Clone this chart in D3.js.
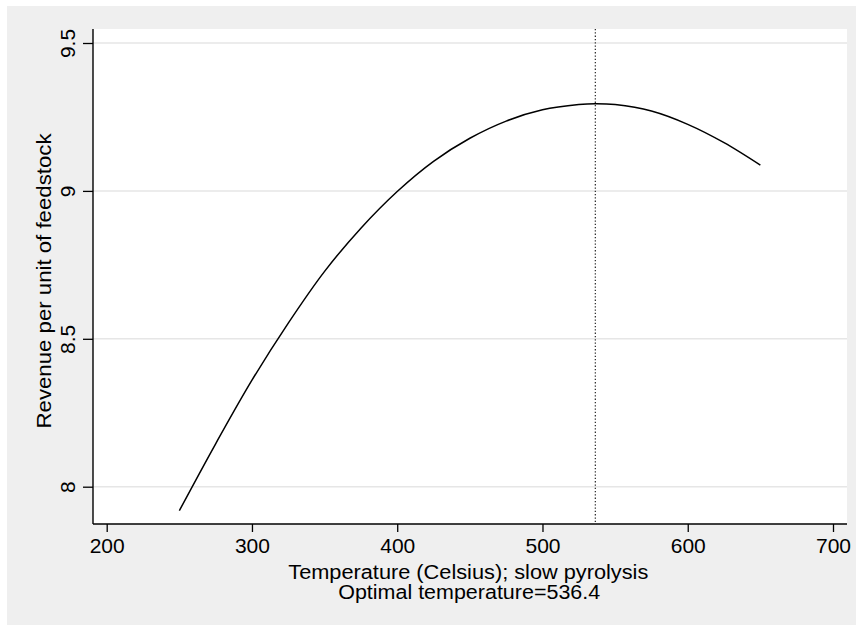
<!DOCTYPE html>
<html>
<head>
<meta charset="utf-8">
<script src="https://cdn.jsdelivr.net/npm/d3@7"></script>
<style>
  html, body { margin: 0; padding: 0; background: #ffffff; }
  svg text { font-family: "Liberation Sans", Arial, sans-serif; fill: #000; }
</style>
</head>
<body>
<div id="canvas"></div>
<script>
"use strict";

/* ---------- data ---------- */
let temps   = [250, 275, 300, 325, 350, 375, 400, 425, 450, 475, 500, 525, 536.4, 550, 575, 600, 625, 650];
let revenue = [7.919, 8.145, 8.360, 8.553, 8.728, 8.874, 8.998, 9.100, 9.178, 9.236, 9.274, 9.292, 9.295, 9.292, 9.270, 9.225, 9.163, 9.087];
let xTicks = [200, 300, 400, 500, 600, 700];
let yTicks = [8, 8.5, 9, 9.5];
let optimalTemp = 536.4;

/* ---------- layout ---------- */
let svgWidth = 856;
let svgHeight = 626;

let plotLeft = 93;
let plotRight = 847;
let plotTop = 29;
let plotBottom = 524;

let fontSize = "21px";

let svg = d3.select("#canvas")
    .append("svg")
    .attr("width", svgWidth)
    .attr("height", svgHeight);

/* outer gray graph region */
svg.append("rect")
    .attr("x", 7)
    .attr("y", 6)
    .attr("width", svgWidth - 7)
    .attr("height", svgHeight - 7)
    .attr("fill", "#efefef");

/* white plot region */
svg.append("rect")
    .attr("x", plotLeft)
    .attr("y", plotTop)
    .attr("width", plotRight - plotLeft)
    .attr("height", plotBottom - plotTop)
    .attr("fill", "#ffffff");

/* ---------- scales ---------- */
let xScale = d3.scaleLinear()
    .domain([200, 700])
    .range([106.7, 833]);

let yScale = d3.scaleLinear()
    .domain([8, 9.5])
    .range([486.7, 43]);

/* gridlines */
svg.selectAll("line.grid")
    .data(yTicks)
    .join("line")
    .attr("class", "grid")
    .attr("x1", plotLeft)
    .attr("x2", plotRight)
    .attr("y1", d => yScale(d))
    .attr("y2", d => yScale(d))
    .attr("stroke", "#e6e6e6")
    .attr("stroke-width", 1.5);

/* ---------- axes ---------- */
let xAxis = d3.axisBottom(xScale)
    .tickValues(xTicks)
    .tickSize(8)
    .tickPadding(6)
    .tickFormat(d3.format("d"));

let gx = svg.append("g")
    .attr("transform", "translate(0," + plotBottom + ")")
    .call(xAxis);

gx.select(".domain").remove();
gx.append("line")
    .attr("x1", plotLeft)
    .attr("x2", plotRight)
    .attr("stroke", "#000")
    .attr("stroke-width", 1.4);
gx.selectAll(".tick line").attr("stroke", "#000").attr("stroke-width", 1.3);
gx.selectAll(".tick text")
    .style("font-size", fontSize)
    .style("font-family", "Liberation Sans, Arial, sans-serif")
    .attr("fill", "#000");

let yAxis = d3.axisLeft(yScale)
    .tickValues(yTicks)
    .tickSize(10)
    .tickFormat(d => d3.format("")(d));

let gy = svg.append("g")
    .attr("transform", "translate(" + plotLeft + ",0)")
    .call(yAxis);

gy.select(".domain").remove();
gy.append("line")
    .attr("y1", plotTop)
    .attr("y2", plotBottom)
    .attr("stroke", "#000")
    .attr("stroke-width", 1.4);
gy.selectAll(".tick line").attr("stroke", "#000").attr("stroke-width", 1.3);
gy.selectAll(".tick text")
    .attr("x", null)
    .attr("dy", null)
    .attr("transform", "translate(-18,0) rotate(-90)")
    .attr("text-anchor", "middle")
    .style("font-size", fontSize)
    .style("font-family", "Liberation Sans, Arial, sans-serif")
    .attr("fill", "#000");

/* ---------- axis titles ---------- */
svg.append("text")
    .attr("x", 468.3)
    .attr("y", 579)
    .attr("text-anchor", "middle")
    .attr("textLength", 360)
    .attr("lengthAdjust", "spacingAndGlyphs")
    .style("font-size", "20px")
    .text("Temperature (Celsius); slow pyrolysis");

svg.append("text")
    .attr("x", 469.2)
    .attr("y", 599)
    .attr("text-anchor", "middle")
    .attr("textLength", 262)
    .attr("lengthAdjust", "spacingAndGlyphs")
    .style("font-size", "20px")
    .text("Optimal temperature=" + optimalTemp);

svg.append("text")
    .attr("transform", "translate(51,281) rotate(-90)")
    .attr("text-anchor", "middle")
    .attr("textLength", 295)
    .attr("lengthAdjust", "spacingAndGlyphs")
    .style("font-size", "20px")
    .text("Revenue per unit of feedstock");

/* ---------- optimal temperature line ---------- */
svg.append("line")
    .attr("x1", xScale(optimalTemp))
    .attr("x2", xScale(optimalTemp))
    .attr("y1", plotTop)
    .attr("y2", plotBottom)
    .attr("stroke", "#333")
    .attr("stroke-width", 1.3)
    .attr("stroke-dasharray", "1.3,2");

/* ---------- curve ---------- */
let points = temps.map((t, i) => ({t: t, r: revenue[i]}));

let line = d3.line()
    .x(d => xScale(d.t))
    .y(d => yScale(d.r))
    .curve(d3.curveCatmullRom);

svg.append("path")
    .datum(points)
    .attr("d", line)
    .attr("fill", "none")
    .attr("stroke", "#000")
    .attr("stroke-width", 1.5);
</script>
</body>
</html>
